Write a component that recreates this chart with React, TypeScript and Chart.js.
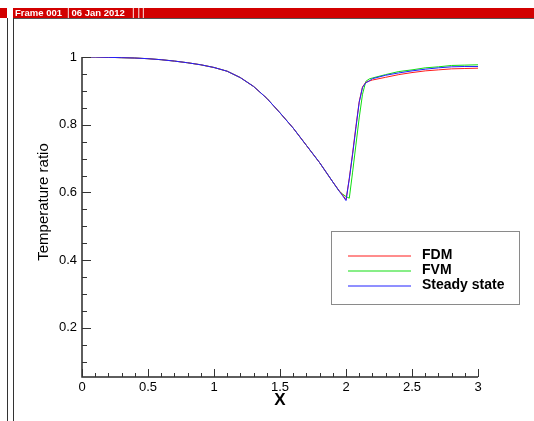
import React, { useEffect, useRef } from "react";
import { Chart, registerables } from "chart.js";

Chart.register(...registerables);

// ---------- data ----------
const X_VALUES = [
  0, 0.1, 0.2, 0.3, 0.4, 0.5, 0.6, 0.7, 0.8, 0.9, 1.0, 1.1, 1.2, 1.3, 1.4, 1.5, 1.6, 1.7, 1.8, 1.9,
  1.95, 1.975, 2.0, 2.025, 2.05, 2.075, 2.1, 2.125, 2.15, 2.175, 2.2, 2.3, 2.4, 2.5, 2.6, 2.7, 2.8, 2.9, 3.0,
];
const FDM = [
  1.0, 1.0, 0.999, 0.998, 0.997, 0.995, 0.992, 0.988, 0.983, 0.977, 0.969, 0.958, 0.939, 0.913, 0.878, 0.835, 0.79, 0.739, 0.688, 0.631,
  0.604, 0.593, 0.578, 0.642, 0.716, 0.795, 0.868, 0.912, 0.925, 0.929, 0.932, 0.94, 0.948, 0.954, 0.959, 0.962, 0.965, 0.966, 0.967,
];
const FVM = [
  1.0, 1.0, 0.999, 0.998, 0.997, 0.995, 0.992, 0.988, 0.983, 0.977, 0.969, 0.958, 0.939, 0.913, 0.878, 0.835, 0.79, 0.739, 0.688, 0.631,
  0.603, 0.595, 0.588, 0.583, 0.66, 0.74, 0.82, 0.89, 0.928, 0.935, 0.938, 0.948, 0.957, 0.962, 0.968, 0.971, 0.975, 0.976, 0.977,
];
const STEADY = [
  1.0, 1.0, 0.999, 0.998, 0.997, 0.995, 0.992, 0.988, 0.983, 0.977, 0.969, 0.958, 0.939, 0.913, 0.878, 0.835, 0.79, 0.739, 0.688, 0.631,
  0.603, 0.59, 0.576, 0.64, 0.712, 0.79, 0.866, 0.91, 0.924, 0.929, 0.936, 0.946, 0.953, 0.959, 0.964, 0.968, 0.971, 0.972, 0.972,
];
const SERIES_LABELS = ["FDM", "FVM", "Steady state"];
const SERIES_COLORS = ["#ff1a1a", "#10dd10", "#2020ff"];
const X_TICKS = [0, 0.5, 1, 1.5, 2, 2.5, 3];
const Y_TICKS = [0.2, 0.4, 0.6, 0.8, 1];
const X_RANGE = [0, 3];
const Y_RANGE = [0.055, 1];
const X_TITLE = "X";
const Y_TITLE = "Temperature ratio";
const HEADER_PARTS = ["Frame 001", "|", "06 Jan 2012", "|", "|", "|"];

const FONT = "'Liberation Sans', Arial, Helvetica, sans-serif";

const decorPlugin = {
  id: "decor",
  afterDatasetsDraw(chart: any) {
    const { ctx, chartArea: a, scales } = chart;
    const xs = scales.x;
    const ys = scales.y;
    ctx.save();
    ctx.strokeStyle = "#2a2a2a";
    ctx.lineWidth = 1.5;
    ctx.beginPath();
    ctx.moveTo(a.left, a.top);
    ctx.lineTo(a.left, a.bottom);
    ctx.lineTo(a.right, a.bottom);
    ctx.stroke();

    ctx.lineWidth = 1;
    ctx.strokeStyle = "#333";
    // x ticks (inward)
    for (let i = 0; i <= 30; i++) {
      const v = i / 10;
      const px = Math.round(xs.getPixelForValue(v)) + 0.5;
      const len = i % 5 === 0 ? 8 : 4;
      ctx.beginPath();
      ctx.moveTo(px, a.bottom);
      ctx.lineTo(px, a.bottom - len);
      ctx.stroke();
    }
    // y ticks (inward)
    for (let i = 1; i <= 20; i++) {
      const v = i * 0.05;
      if (v < Y_RANGE[0]) continue;
      const py = Math.round(ys.getPixelForValue(v)) + 0.5;
      const len = i % 4 === 0 ? 9 : 5;
      ctx.beginPath();
      ctx.moveTo(a.left, py);
      ctx.lineTo(a.left + len, py);
      ctx.stroke();
    }

    // axis titles
    ctx.fillStyle = "#000";
    ctx.textAlign = "center";
    ctx.textBaseline = "middle";
    ctx.font = `bold 17px ${FONT}`;
    ctx.fillText(X_TITLE, (a.left + a.right) / 2, a.bottom + 23);
    ctx.save();
    ctx.translate(a.left - 38, (a.top + a.bottom) / 2 - 15);
    ctx.rotate(-Math.PI / 2);
    ctx.font = `15px ${FONT}`;
    ctx.fillText(Y_TITLE, 0, 0);
    ctx.restore();

    // legend box
    const bx = 331.5, by = 231.5, bw = 188, bh = 73;
    ctx.fillStyle = "#fff";
    ctx.fillRect(bx, by, bw, bh);
    ctx.strokeStyle = "#8a8a8a";
    ctx.lineWidth = 1;
    ctx.strokeRect(bx, by, bw, bh);
    chart.data.datasets.forEach((ds: any, i: number) => {
      const ly = 256 + i * 15;
      ctx.strokeStyle = ds.borderColor;
      ctx.lineWidth = 1;
      ctx.beginPath();
      ctx.moveTo(348, ly);
      ctx.lineTo(411, ly);
      ctx.stroke();
      ctx.fillStyle = "#000";
      ctx.textAlign = "left";
      ctx.textBaseline = "middle";
      ctx.font = `bold 14px ${FONT}`;
      ctx.fillText(ds.label, 422, ly - 1);
    });
    ctx.restore();
  },
};

export default function App() {
  const ref = useRef<HTMLCanvasElement | null>(null);

  useEffect(() => {
    if (!ref.current) return;
    const seriesList = [FDM, FVM, STEADY];
    const orders = [1, 2, 0];
    const chart = new Chart(ref.current, {
      type: "line",
      data: {
        datasets: seriesList.map((s, i) => ({
          label: SERIES_LABELS[i],
          data: X_VALUES.map((x, j) => ({ x, y: s[j] })),
          borderColor: SERIES_COLORS[i],
          backgroundColor: SERIES_COLORS[i],
          borderWidth: 1,
          pointRadius: 0,
          tension: 0,
          fill: false,
          order: orders[i],
        })),
      },
      options: {
        animation: false,
        responsive: false,
        devicePixelRatio: 1,
        events: [],
        layout: { padding: { left: 0, top: 57, right: 56, bottom: 0 } },
        plugins: { legend: { display: false }, tooltip: { enabled: false }, title: { display: false } },
        scales: {
          x: {
            type: "linear",
            min: X_RANGE[0],
            max: X_RANGE[1],
            grid: { display: false, drawTicks: false },
            border: { display: false },
            ticks: {
              font: { family: FONT, size: 13 },
              color: "#000",
              padding: 3,
              maxRotation: 0,
              autoSkip: false,
              callback: (v: any) => String(v),
            },
            afterBuildTicks: (s: any) => {
              s.ticks = X_TICKS.map((v) => ({ value: v }));
            },
            afterFit: (s: any) => {
              s.height = 44;
            },
          },
          y: {
            type: "linear",
            min: Y_RANGE[0],
            max: Y_RANGE[1],
            grid: { display: false, drawTicks: false },
            border: { display: false },
            ticks: {
              font: { family: FONT, size: 13 },
              color: "#000",
              padding: 5,
              autoSkip: false,
              callback: (v: any) => String(v),
            },
            afterBuildTicks: (s: any) => {
              s.ticks = Y_TICKS.map((v) => ({ value: v }));
            },
            afterFit: (s: any) => {
              s.width = 82;
            },
          },
        },
      } as any,
      plugins: [decorPlugin],
    });
    return () => chart.destroy();
  }, []);

  const headerPos = [15, 67, 71.5, 132, 137.5, 142];

  return (
    <div
      style={{
        position: "fixed",
        left: 0,
        top: 0,
        width: 534,
        height: 421,
        background: "#fff",
        overflow: "hidden",
      }}
    >
      <canvas ref={ref} width={534} height={421} style={{ position: "absolute", left: 0, top: 0, width: 534, height: 421 }} />
      <div style={{ position: "absolute", left: 0, top: 8, width: 7, height: 10, background: "#d20000" }} />
      <div style={{ position: "absolute", left: 13, top: 8, width: 521, height: 10, background: "#d20000" }} />
      <div style={{ position: "absolute", left: 13, top: 18, width: 521, height: 1, background: "#555" }} />
      <div style={{ position: "absolute", left: 7, top: 18, width: 1, height: 403, background: "#333" }} />
      <div style={{ position: "absolute", left: 13, top: 18, width: 1, height: 403, background: "#333" }} />
      {HEADER_PARTS.map((t, i) => (
        <span
          key={i}
          style={{
            position: "absolute",
            left: headerPos[i],
            top: 8,
            lineHeight: "10px",
            fontSize: t === "|" ? 10 : 9.5,
            fontWeight: t === "|" ? "normal" : "bold",
            fontFamily: FONT,
            color: "#fff",
            whiteSpace: "nowrap",
          }}
        >
          {t}
        </span>
      ))}
    </div>
  );
}
